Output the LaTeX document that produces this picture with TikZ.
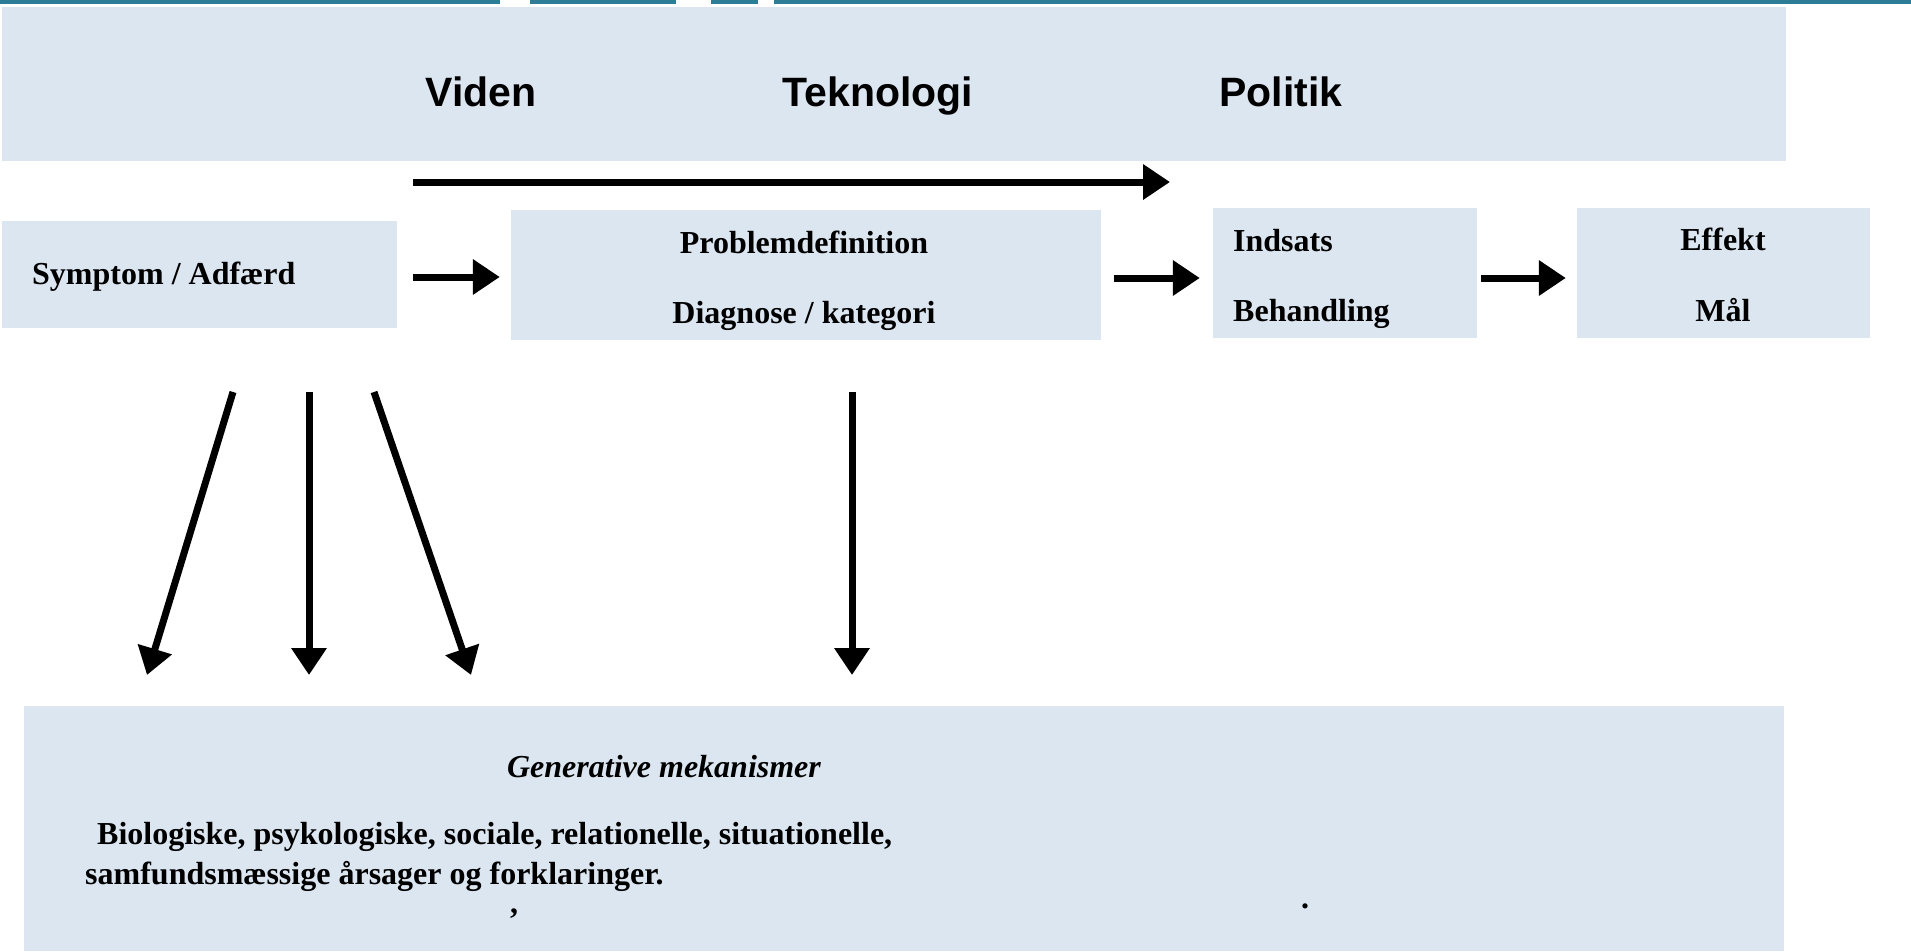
\documentclass[tikz,border=0pt]{standalone}
\usepackage{fontspec}
\setmainfont{Liberation Serif}
\newfontfamily\arialfont{Liberation Sans}
\usetikzlibrary{arrows.meta, positioning}
\definecolor{boxblue}{RGB}{220,230,241}
\definecolor{topteal}{RGB}{46,125,150}

\begin{document}
\begin{tikzpicture}[x=1pt, y=-1pt,
		box/.style={fill=boxblue, draw=none, inner sep=0pt},
		lbl/.style={font=\fontsize{32}{37}\selectfont\bfseries, inner sep=0pt, text height=0.66em, text depth=0pt},
		head/.style={font=\arialfont\fontsize{41}{48}\selectfont\bfseries, inner sep=0pt, text height=0.72em, text depth=0pt},
		fat/.style={line width=7pt, -{Triangle[length=27pt, width=34pt]}}]
			\useasboundingbox (0,0) rectangle (1911,951);
			% line along the top edge
			\fill[topteal] (0,0) rectangle (500,4);
			\fill[topteal] (530,0) rectangle (676,4);
			\fill[topteal] (711,0) rectangle (758,4);
			\fill[topteal] (774,0) rectangle (1911,4);

			\node[box, minimum width=1784, minimum height=154] (band) at (894,84) {};
			\node[head] (viden) at (481,103) {Viden};
			\node[head] (tekno) at (878,103) {Teknologi};
			\node[head] (polit) at (1281,103) {Politik};
			\coordinate (vstart) at (413,182);
			\coordinate (vend) at (1170,182);
			\draw[fat] (vstart) -- (vend);

			\node[box, minimum width=395, minimum height=107] (symptom) at (199.5,274.5) {};
			\node[box, minimum width=590, minimum height=130] (problem) at (806,275) {};
			\node[box, minimum width=264, minimum height=130] (indsats) at (1345,273) {};
			\node[box, minimum width=293, minimum height=130] (effekt) at (1723.5,273) {};
			\node[box, minimum width=1760, minimum height=245] (mekanisme) at (904,828.5) {};

			\node[lbl, anchor=west] (sympt) at (32,281) {Symptom / Adfærd};
			\node[lbl] (probl) at (804,250) {Problemdefinition};
			\node[lbl] (diagn) at (804,320) {Diagnose / kategori};
			\node[lbl, anchor=west] (indst) at (1233,248) {Indsats};
			\node[lbl, anchor=west] (behan) at (1233,318) {Behandling};
			\node[lbl] (effkt) at (1723,247) {Effekt};
			\node[lbl] (maal) at (1723,318) {Mål};

			\draw[fat, shorten <=16pt, shorten >=11pt] (symptom.east |- 0,277) -- (problem.west |- 0,277);
			\draw[fat, shorten <=13pt, shorten >=13pt] (problem.east |- 0,278) -- (indsats.west |- 0,278);
			\draw[fat, shorten <=4pt, shorten >=11pt] (indsats.east |- 0,278) -- (effekt.west |- 0,278);

			\coordinate (d1) at (233,392);
			\coordinate (d2) at (309,392);
			\coordinate (d3) at (374,392);
			\coordinate (d4) at (852,392);
			\coordinate (e1) at (147,675);
			\coordinate (e2) at (309,675);
			\coordinate (e3) at (471,675);
			\coordinate (e4) at (852,675);
			\foreach \i in {1,...,4}
				\draw[fat] (d\i) -- (e\i);

			\node[lbl, font=\fontsize{32}{37}\selectfont\bfseries\itshape] (gener) at (664,774) {Generative mekanismer};
			\node[lbl, anchor=west] (biolo) at (97,841) {Biologiske, psykologiske, sociale, relationelle, situationelle,};
			\node[lbl, anchor=west] (samfu) at (85,881) {samfundsmæssige årsager og forklaringer.};
			\node[lbl, anchor=base, text height=0.2em] (komma) at (514,913) {,};
			\node[lbl, anchor=base, text height=0.2em] (punkt) at (1305,908) {.};
		\end{tikzpicture}
\end{document}
